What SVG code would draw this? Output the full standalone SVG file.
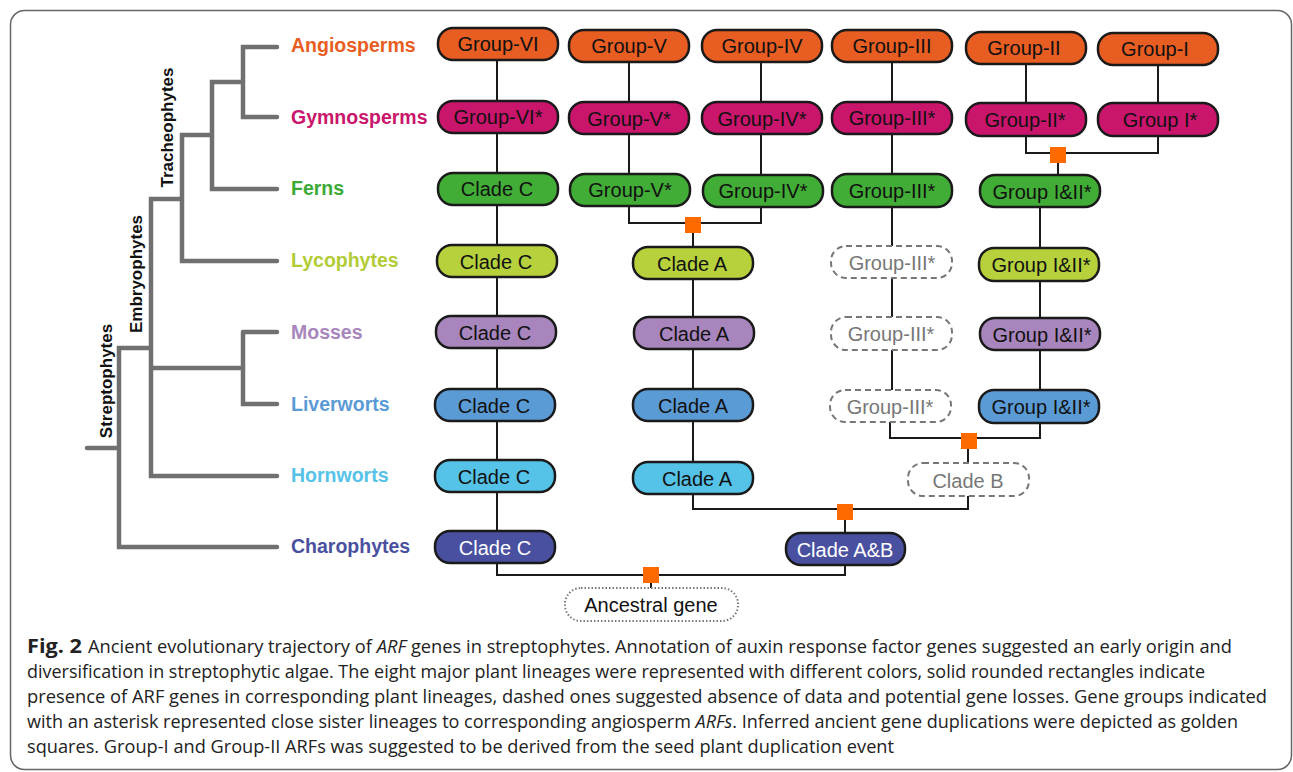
<svg xmlns="http://www.w3.org/2000/svg" width="1293" height="772" viewBox="0 0 1293 772">
<style>
.frame{fill:none;stroke:#666;stroke-width:1.5}
.tree{fill:none;stroke:#707070;stroke-width:4.5;stroke-linecap:round;stroke-linejoin:miter}
.clade{font-family:"Liberation Sans",Arial,sans-serif;font-weight:bold;font-size:17px;fill:#111}
.lin{font-family:"Liberation Sans",Arial,sans-serif;font-weight:bold;font-size:19.5px}
.n rect{stroke:#1a1a1a;stroke-width:2.5}
.n text{font-family:"Liberation Sans",Arial,sans-serif;font-size:20px;fill:#111;text-anchor:middle}
.d rect{fill:#fff;stroke:#777;stroke-width:2;stroke-dasharray:6 4}
.d text{fill:#777}
.ang{fill:#e85d22}.gym{fill:#c9156b}.fer{fill:#41ad36}.lyc{fill:#b7d13d}
.mos{fill:#a886bd}.liv{fill:#5b9bd5}.hor{fill:#55c2e8}.cha{fill:#4a50a0}
.conn{fill:none;stroke:#1a1a1a;stroke-width:2}
.sq{fill:#ff6a00}
.cap{font-family:"Open Sans","Noto Sans",sans-serif;font-size:18px;fill:#222}
</style>
<rect class="frame" x="10.5" y="10.5" width="1281" height="759" rx="14"/>

<g id="tree">
<path class="tree" d="M277 47H243V117H277M243 82H212V189H277M212 135H182V261H277M182 199H151V476H277M151 368H243M243 332H277M243 332V404H277M151 348H119V547H277M119 448H87"/>
<text class="clade" transform="translate(173,127.5) rotate(-90)" text-anchor="middle">Tracheophytes</text>
<text class="clade" transform="translate(142,274) rotate(-90)" text-anchor="middle">Embryophytes</text>
<text class="clade" transform="translate(112,381) rotate(-90)" text-anchor="middle">Streptophytes</text>
</g>

<g id="lineages" class="lin">
<text x="291" y="52" fill="#e85d22">Angiosperms</text>
<text x="291" y="124" fill="#c9156b">Gymnosperms</text>
<text x="291" y="195" fill="#3aaa35">Ferns</text>
<text x="291" y="267" fill="#b2cc36">Lycophytes</text>
<text x="291" y="339" fill="#a886bd">Mosses</text>
<text x="291" y="411" fill="#5b9bd5">Liverworts</text>
<text x="291" y="482" fill="#55c2e8">Hornworts</text>
<text x="291" y="553" fill="#4a50a0">Charophytes</text>
</g>

<g id="connectors">
<path class="conn" d="M497 60V101M497 133V173M497 205V245M497 277V316M497 348V389M497 421V460M497 492V532"/>
<path class="conn" d="M629 62V102M629 134V173M761 62V102M761 134V174"/>
<path class="conn" d="M629 206V223H761V207M693 223V247"/>
<path class="conn" d="M693 279V317M693 349V389M693 421V462M693 494V509H968V496"/>
<path class="conn" d="M892 62V102M892 134V174M892 207V246M892 278V317M892 350V390M890 422V438H1040V423M968 438V463"/>
<path class="conn" d="M1026 64V103M1158 65V103M1026 136V153H1158V136M1058 153V175"/>
<path class="conn" d="M1040 207V248M1040 281V318M1040 350V390"/>
<path class="conn" d="M845 511V533M497 563V575H845V565M651 575V588"/>
<rect class="sq" x="685" y="217" width="16" height="16"/>
<rect class="sq" x="1050" y="147" width="16" height="16"/>
<rect class="sq" x="961" y="433" width="16" height="16"/>
<rect class="sq" x="837" y="504" width="16" height="16"/>
<rect class="sq" x="643" y="567" width="16" height="16"/>
</g>

<g id="n-group-vi" class="n"><rect class="ang" x="438" y="28" width="120" height="32" rx="15"/><text x="498" y="51">Group-VI</text></g>
<g id="n-group-v" class="n"><rect class="ang" x="569" y="30" width="120" height="32" rx="15"/><text x="629" y="53">Group-V</text></g>
<g id="n-group-iv" class="n"><rect class="ang" x="702" y="30" width="120" height="32" rx="15"/><text x="762" y="53">Group-IV</text></g>
<g id="n-group-iii" class="n"><rect class="ang" x="832" y="30" width="120" height="32" rx="15"/><text x="892" y="53">Group-III</text></g>
<g id="n-group-ii" class="n"><rect class="ang" x="966" y="32" width="120" height="32" rx="15"/><text x="1024" y="55">Group-II</text></g>
<g id="n-group-i" class="n"><rect class="ang" x="1098" y="33" width="120" height="32" rx="15"/><text x="1155" y="56">Group-I</text></g>

<g id="n-gym-vi" class="n"><rect class="gym" x="438" y="101" width="120" height="32" rx="15"/><text x="498" y="124">Group-VI*</text></g>
<g id="n-gym-v" class="n"><rect class="gym" x="569" y="102" width="120" height="32" rx="15"/><text x="629" y="126">Group-V*</text></g>
<g id="n-gym-iv" class="n"><rect class="gym" x="702" y="102" width="120" height="32" rx="15"/><text x="762" y="126">Group-IV*</text></g>
<g id="n-gym-iii" class="n"><rect class="gym" x="832" y="102" width="120" height="32" rx="15"/><text x="892" y="125">Group-III*</text></g>
<g id="n-gym-ii" class="n"><rect class="gym" x="966" y="103" width="120" height="33" rx="15"/><text x="1025" y="127">Group-II*</text></g>
<g id="n-gym-i" class="n"><rect class="gym" x="1098" y="103" width="120" height="33" rx="15"/><text x="1160" y="127">Group I*</text></g>

<g id="n-fer-c" class="n"><rect class="fer" x="438" y="173" width="120" height="32" rx="15"/><text x="497" y="196">Clade C</text></g>
<g id="n-fer-v" class="n"><rect class="fer" x="570" y="174" width="120" height="32" rx="15"/><text x="630" y="197">Group-V*</text></g>
<g id="n-fer-iv" class="n"><rect class="fer" x="703" y="175" width="120" height="32" rx="15"/><text x="763" y="198">Group-IV*</text></g>
<g id="n-fer-iii" class="n"><rect class="fer" x="832" y="174" width="120" height="33" rx="15"/><text x="892" y="198">Group-III*</text></g>
<g id="n-fer-i-ii" class="n"><rect class="fer" x="980" y="175" width="120" height="32" rx="15"/><text x="1042" y="199">Group I&amp;II*</text></g>

<g id="n-lyc-c" class="n"><rect class="lyc" x="437" y="245" width="120" height="32" rx="15"/><text x="496" y="269">Clade C</text></g>
<g id="n-lyc-a" class="n"><rect class="lyc" x="633" y="247" width="120" height="32" rx="15"/><text x="692" y="271">Clade A</text></g>
<g id="n-lyc-iii" class="n d"><rect x="831" y="246" width="121" height="32" rx="15"/><text x="892" y="270">Group-III*</text></g>
<g id="n-lyc-i-ii" class="n"><rect class="lyc" x="979" y="248" width="120" height="33" rx="15"/><text x="1041" y="272">Group I&amp;II*</text></g>

<g id="n-mos-c" class="n"><rect class="mos" x="436" y="316" width="120" height="32" rx="15"/><text x="495" y="340">Clade C</text></g>
<g id="n-mos-a" class="n"><rect class="mos" x="634" y="317" width="120" height="32" rx="15"/><text x="694" y="341">Clade A</text></g>
<g id="n-mos-iii" class="n d"><rect x="831" y="317" width="121" height="33" rx="15"/><text x="891" y="341">Group-III*</text></g>
<g id="n-mos-i-ii" class="n"><rect class="mos" x="980" y="318" width="120" height="32" rx="15"/><text x="1042" y="342">Group I&amp;II*</text></g>

<g id="n-liv-c" class="n"><rect class="liv" x="435" y="389" width="120" height="32" rx="15"/><text x="494" y="413">Clade C</text></g>
<g id="n-liv-a" class="n"><rect class="liv" x="633" y="389" width="120" height="32" rx="15"/><text x="693" y="413">Clade A</text></g>
<g id="n-liv-iii" class="n d"><rect x="830" y="390" width="121" height="32" rx="15"/><text x="890" y="414">Group-III*</text></g>
<g id="n-liv-i-ii" class="n"><rect class="liv" x="979" y="390" width="120" height="33" rx="15"/><text x="1041" y="414">Group I&amp;II*</text></g>

<g id="n-hor-c" class="n"><rect class="hor" x="435" y="460" width="120" height="32" rx="15"/><text x="494" y="484">Clade C</text></g>
<g id="n-hor-a" class="n"><rect class="hor" x="633" y="462" width="120" height="32" rx="15"/><text x="697" y="486">Clade A</text></g>
<g id="n-hor-b" class="n d"><rect x="908" y="463" width="121" height="33" rx="15"/><text x="968" y="488">Clade B</text></g>

<g id="n-cha-c" class="n"><rect class="cha" x="435" y="531" width="120" height="32" rx="15"/><text x="495" y="555" style="fill:#fff">Clade C</text></g>
<g id="n-cha-ab" class="n"><rect class="cha" x="786" y="533" width="119" height="32" rx="15"/><text x="845" y="557" style="fill:#fff">Clade A&amp;B</text></g>

<g id="n-ancestral"><rect x="565" y="588" width="173" height="33" rx="16" fill="#fff" stroke="#777" stroke-width="2" stroke-dasharray="1.5 2"/><text x="651" y="612" text-anchor="middle" font-family="Liberation Sans, Arial, sans-serif" font-size="20" fill="#111">Ancestral gene</text></g>

<g id="caption" class="cap">
<text x="27" y="653" font-weight="bold" font-size="19" textLength="55" lengthAdjust="spacingAndGlyphs">Fig. 2</text>
<text x="88" y="653" textLength="1144" lengthAdjust="spacingAndGlyphs">Ancient evolutionary trajectory of <tspan font-style="italic">ARF</tspan> genes in streptophytes. Annotation of auxin response factor genes suggested an early origin and</text>
<text x="27" y="678" textLength="1178" lengthAdjust="spacingAndGlyphs">diversification in streptophytic algae. The eight major plant lineages were represented with different colors, solid rounded rectangles indicate</text>
<text x="27" y="703" textLength="1240" lengthAdjust="spacingAndGlyphs">presence of ARF genes in corresponding plant lineages, dashed ones suggested absence of data and potential gene losses. Gene groups indicated</text>
<text x="27" y="728" textLength="1211" lengthAdjust="spacingAndGlyphs">with an asterisk represented close sister lineages to corresponding angiosperm <tspan font-style="italic">ARFs</tspan>. Inferred ancient gene duplications were depicted as golden</text>
<text x="27" y="753" textLength="867" lengthAdjust="spacingAndGlyphs">squares. Group-I and Group-II ARFs was suggested to be derived from the seed plant duplication event</text>
</g>
</svg>
